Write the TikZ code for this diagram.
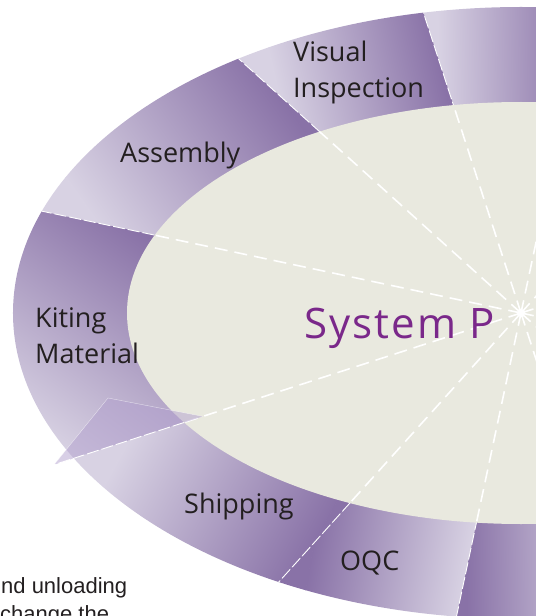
\documentclass[tikz,border=0pt]{standalone}
\usepackage{fontspec}
\setmainfont{Open Sans}
\newfontfamily\notefont{Liberation Sans}
\usepackage{tikz}

\definecolor{ringlight}{RGB}{216,210,227}
\definecolor{ringdark}{RGB}{137,114,167}
\definecolor{corefill}{RGB}{233,233,223}
\definecolor{titlepurple}{RGB}{122,40,138}
\definecolor{labeltext}{RGB}{35,31,32}
\definecolor{flapfill}{RGB}{178,160,206}

\begin{document}
\begin{tikzpicture}[x=1pt,y=1pt,
    lbl/.style={font=\fontsize{27}{36}\selectfont, text=labeltext, inner sep=0pt, align=left, anchor=base west},
    ringray/.style={white, line width=0.9pt, dash pattern=on 12pt off 3pt},
    coreray/.style={white, line width=1.6pt, dash pattern=on 13pt off 7pt},
    segshade/.style={left color=ringlight, right color=ringdark}]
  \useasboundingbox (-521,-303) rectangle (15,313);
  \clip (-521,-303) rectangle (15,313);
  \coordinate (c) at (0,0);

  % top right
  \begin{scope}
    \clip (c) -- (78:700) -- (108:700) -- cycle;
    \clip (c) ellipse [x radius=508, y radius=306];
    \begin{scope}[transform canvas={shift={(-82.5,254.1)}, rotate=1.05}]
      \fill[ringlight] (-200,-250) rectangle (0,250);
      \shade[segshade] (-0.5,-250) rectangle (137.5,250);
      \fill[ringdark] (137,-250) rectangle (337,250);
    \end{scope}
  \end{scope}
  % Visual Inspection
  \begin{scope}
    \clip (c) -- (108:700) -- (138:700) -- cycle;
    \clip (c) ellipse [x radius=508, y radius=306];
    \begin{scope}[transform canvas={shift={(-241.9,217.9)}, rotate=12.8}]
      \fill[ringlight] (-200,-250) rectangle (0,250);
      \shade[segshade] (-0.5,-250) rectangle (164,250);
      \fill[ringdark] (163.5,-250) rectangle (363.5,250);
    \end{scope}
  \end{scope}
  % Assembly
  \begin{scope}
    \clip (c) -- (138:700) -- (168:700) -- cycle;
    \clip (c) ellipse [x radius=508, y radius=306];
    \begin{scope}[transform canvas={shift={(-422.6,89.8)}, rotate=35.3}]
      \fill[ringlight] (-200,-250) rectangle (0,250);
      \shade[segshade] (-0.5,-250) rectangle (222,250);
      \fill[ringdark] (221.5,-250) rectangle (421.5,250);
    \end{scope}
  \end{scope}
  % Kiting Material
  \begin{scope}
    \clip (c) -- (168:700) -- (198:700) -- cycle;
    \clip (c) ellipse [x radius=508, y radius=306];
    \begin{scope}[transform canvas={shift={(-501,-107)}, rotate=54.2}]
      \fill[ringlight] (-200,-250) rectangle (0,250);
      \shade[segshade] (-0.5,-250) rectangle (222.5,250);
      \fill[ringdark] (222,-250) rectangle (422,250);
    \end{scope}
  \end{scope}
  % Shipping
  \begin{scope}
    \clip (c) -- (198:700) -- (228:700) -- cycle;
    \clip (c) ellipse [x radius=508, y radius=306];
    \begin{scope}[transform canvas={shift={(-392,-127.3)}, rotate=-28.9}]
      \fill[ringlight] (-200,-250) rectangle (0,250);
      \shade[segshade] (-0.5,-250) rectangle (212,250);
      \fill[ringdark] (211.5,-250) rectangle (411.5,250);
    \end{scope}
  \end{scope}
  % OQC
  \begin{scope}
    \clip (c) -- (228:700) -- (258:700) -- cycle;
    \clip (c) ellipse [x radius=508, y radius=306];
    \begin{scope}[transform canvas={shift={(-54.5,-256.6)}, rotate=169.9}]
      \fill[ringlight] (-200,-250) rectangle (0,250);
      \shade[segshade] (-0.5,-250) rectangle (155,250);
      \fill[ringdark] (154.5,-250) rectangle (354.5,250);
    \end{scope}
  \end{scope}
  % bottom right
  \begin{scope}
    \clip (c) -- (258:700) -- (288:700) -- cycle;
    \clip (c) ellipse [x radius=508, y radius=306];
    \begin{scope}[transform canvas={shift={(82.5,-254.1)}, rotate=181}]
      \fill[ringlight] (-200,-250) rectangle (0,250);
      \shade[segshade] (-0.5,-250) rectangle (137.5,250);
      \fill[ringdark] (137,-250) rectangle (337,250);
    \end{scope}
  \end{scope}

  % borders in the ring
  \begin{scope}
    \clip (c) ellipse [x radius=508, y radius=306];
    \draw[ringray] (c) -- (78:600) (c) -- (108:600) (c) -- (138:600)
      (c) -- (168:600) (c) -- (228:600) (c) -- (258:600) (c) -- (288:600);
  \end{scope}

  % System P
  \fill[corefill] (c) ellipse [x radius=394, y radius=211];
  \begin{scope}
    \clip (c) ellipse [x radius=394, y radius=211];
    \draw[coreray] (c) -- (18:600) (c) -- (48:600) (c) -- (78:600)
      (c) -- (108:600) (c) -- (138:600) (c) -- (168:600)
      (c) -- (198:600) (c) -- (228:600) (c) -- (258:600)
      (c) -- (288:600) (c) -- (318:600) (c) -- (348:600);
  \end{scope}

  % flap
  \fill[flapfill, fill opacity=0.5] (-413,-85) -- (198:491) -- (198:334.5) -- cycle;
  \draw[white, line width=0.4pt, opacity=0.6] (198:334.5) -- (-413,-85) -- (198:491);
  \draw[ringray] (198:354.2) -- (198:491);

  % labels
  \node[lbl] (visinsp) at (-228,215) {Visual\\Inspection};
  \node[lbl] (assembly) at (-401,150) {Assembly};
  \node[lbl] (kiting) at (-486,-50) {Kiting\\Material};
  \node[lbl] (shipping) at (-337,-200) {Shipping};
  \node[lbl] (oqc) at (-181,-257) {OQC};
  \node[font=\fontsize{42}{48}\selectfont\addfontfeature{LetterSpace=5}, text=titlepurple, inner sep=0pt, anchor=base west]
    (sysp) at (-217,-25) {System P};

  % text below
  \node[font=\notefont\fontsize{22}{28}\selectfont, text=labeltext, inner sep=0pt, anchor=base west]
    (unload) at (-520,-280) {nd unloading};
  \node[font=\notefont\fontsize{22}{28}\selectfont, text=labeltext, inner sep=0pt, anchor=base west]
    (change) at (-521,-308) {change the};
\end{tikzpicture}
\end{document}
